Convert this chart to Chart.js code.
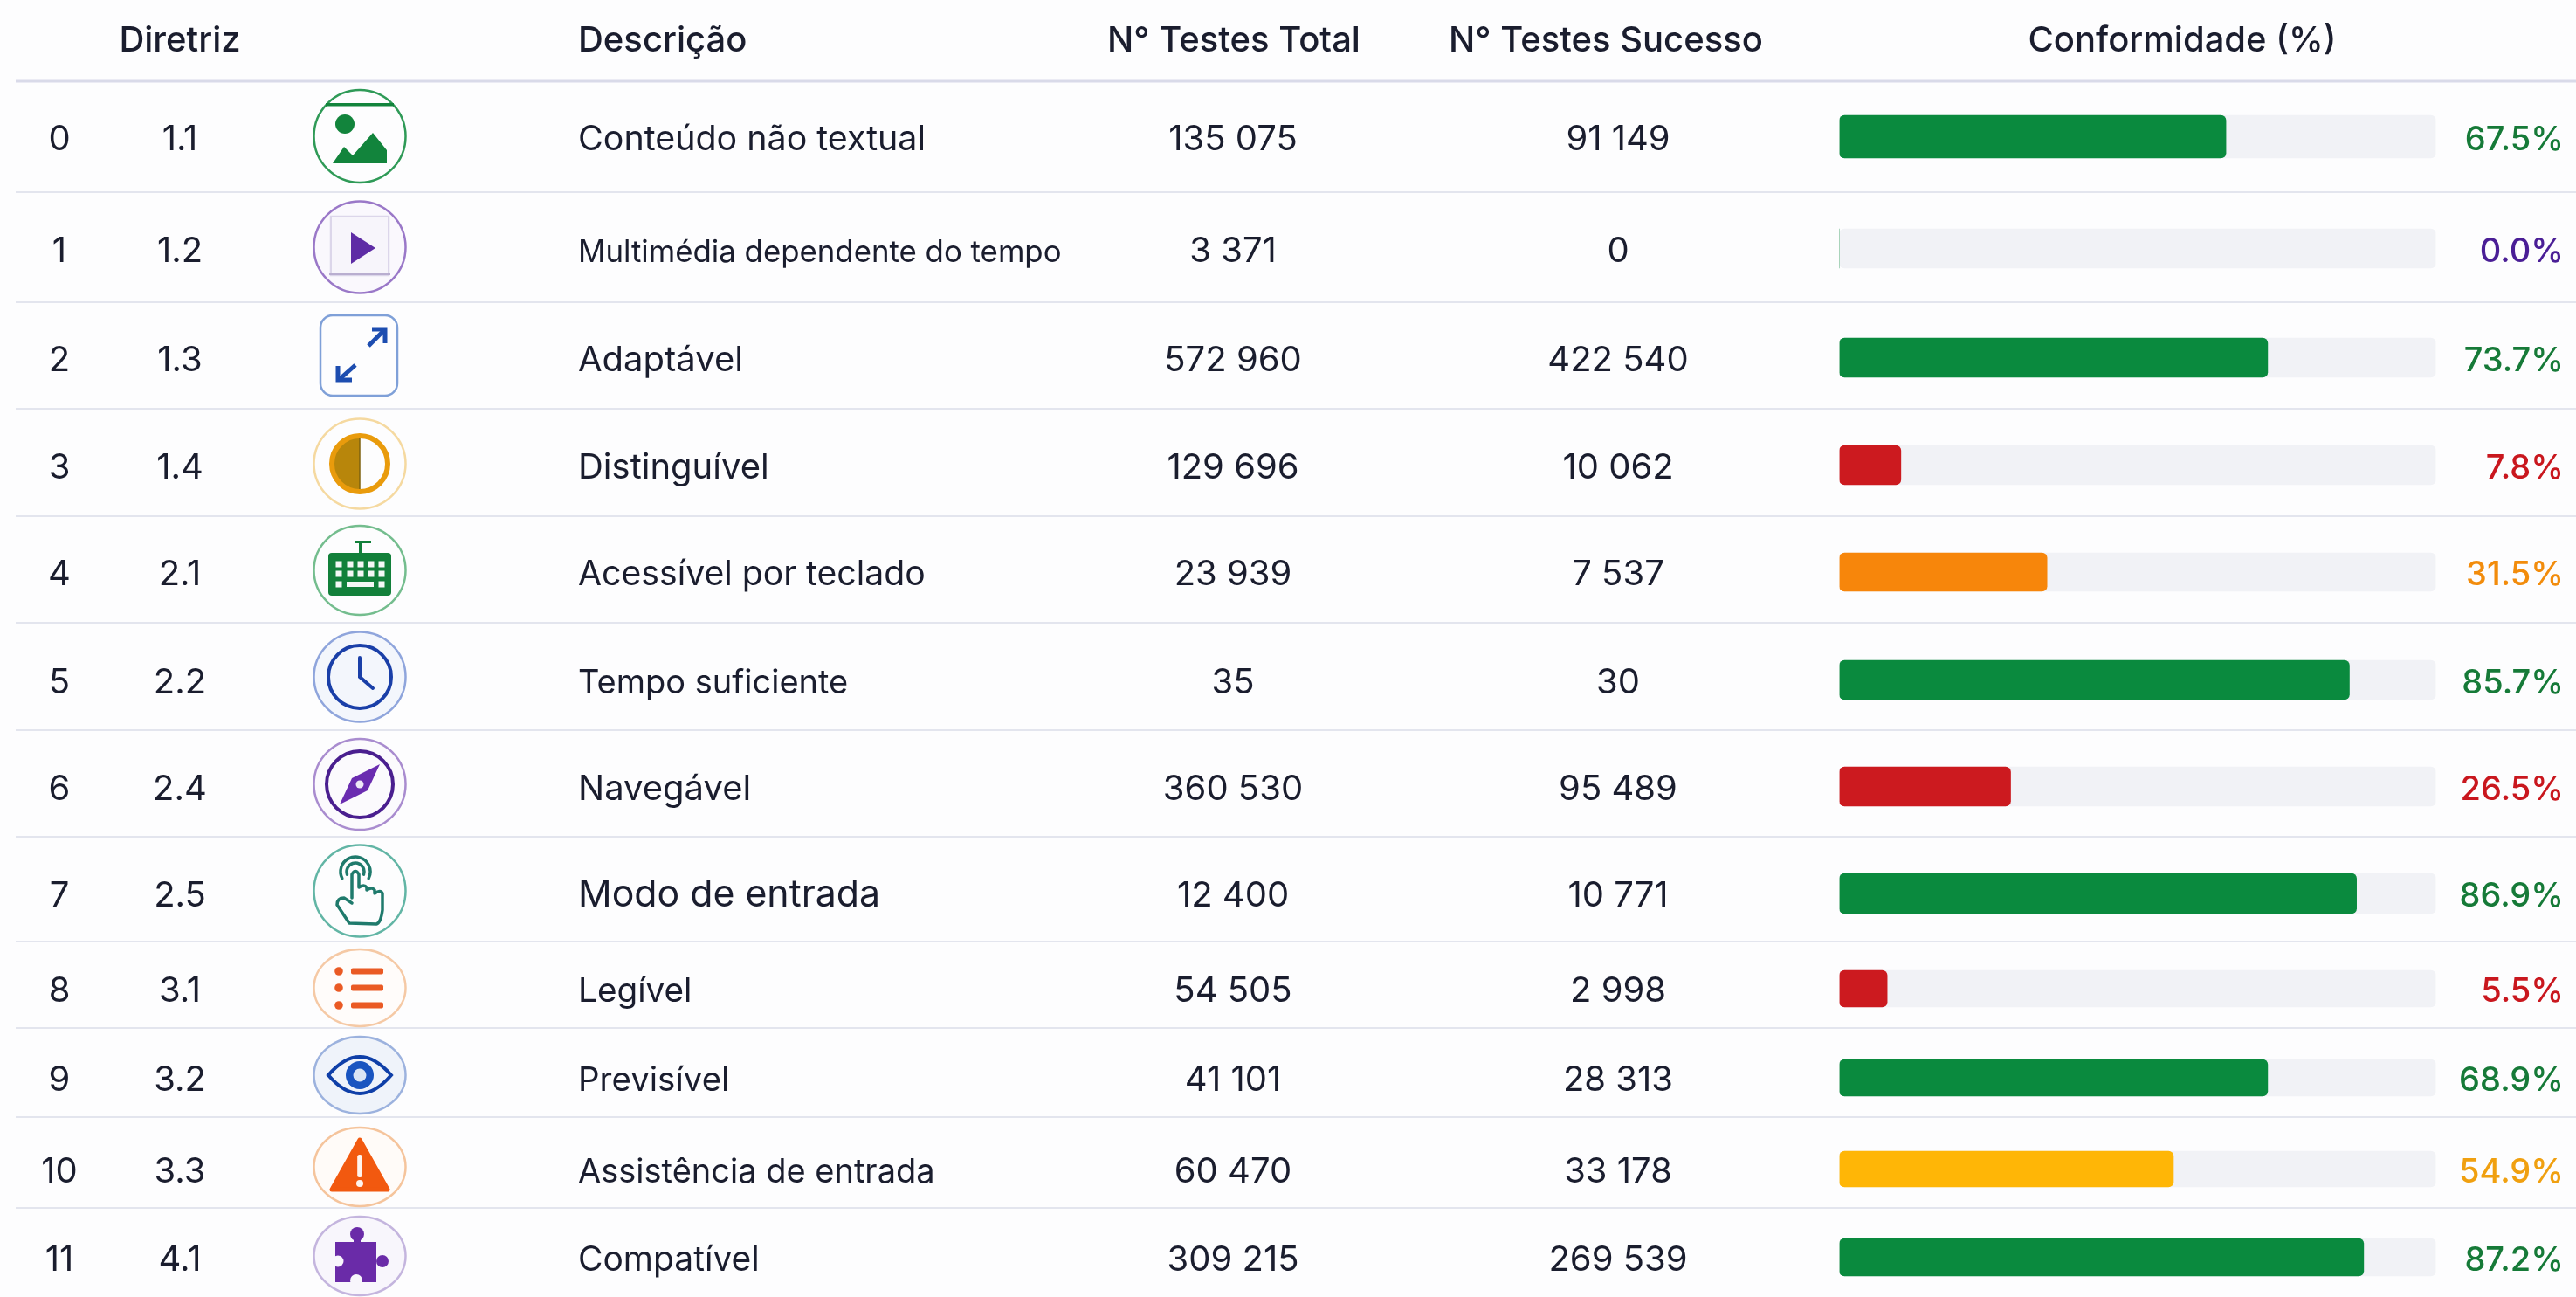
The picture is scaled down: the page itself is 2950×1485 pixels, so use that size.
<!DOCTYPE html>
<html lang="pt">
<head>
<meta charset="utf-8">
<title>Conformidade por diretriz</title>
<script src="https://cdn.jsdelivr.net/npm/chart.js@4"></script>
<style>
  html, body { margin: 0; padding: 0; background: #fdfdfe; }
  canvas { display: block; }
</style>
</head>
<body>
<canvas id="tabela" width="2950" height="1485"></canvas>
<script>
// data
const rowIndex = [0, 1, 2, 3, 4, 5, 6, 7, 8, 9, 10, 11];
const guideline = ["1.1", "1.2", "1.3", "1.4", "2.1", "2.2", "2.4", "2.5", "3.1", "3.2", "3.3", "4.1"];
const description = ["Conteúdo não textual", "Multimédia dependente do tempo", "Adaptável", "Distinguível",
    "Acessível por teclado", "Tempo suficiente", "Navegável", "Modo de entrada", "Legível", "Previsível",
    "Assistência de entrada", "Compatível"];
const totalTests = [135075, 3371, 572960, 129696, 23939, 35, 360530, 12400, 54505, 41101, 60470, 309215];
const passedTests = [91149, 0, 422540, 10062, 7537, 30, 95489, 10771, 2998, 28313, 33178, 269539];
const percentLabels = [67.5, 0.0, 73.7, 7.8, 31.5, 85.7, 26.5, 86.9, 5.5, 68.9, 54.9, 87.2];
// bar lengths as they are drawn in the picture, they don't always agree with the printed label
const barLengths = [64.8, 0, 71.8, 10.3, 34.8, 85.5, 28.7, 86.7, 8.0, 71.8, 56.0, 87.9];
const headers = ["Diretriz", "Descrição", "N° Testes Total", "N° Testes Sucesso", "Conformidade (%)"];

// layout, rows are not evenly spaced in the reference
const rowCenters = [156.5, 284.5, 409.5, 532.5, 655, 778.5, 900.5, 1023, 1132, 1234, 1338.5, 1439.5];
const barHeights = [49, 45, 45, 45, 44, 45, 45, 46, 42, 42, 41, 43];
const rowLines = [220, 346, 468, 591, 713, 836, 958, 1078, 1177, 1279, 1383];
const descSizes = [39.4, 34.8, 40, 40, 39.2, 38, 40, 42.8, 38.7, 38.5, 38, 39];
const ringCenters = [156, 283, 407, 531, 653, 775, 898, 1020, 1131, 1231, 1336, 1438];
const ringRadiusY = [53, 52.5, 46, 51.5, 51, 51.5, 52, 52.5, 44, 44, 45, 45];

const GREEN = "#0a8a3e", RED = "#cc1a1f", ORANGE = "#f7860b", YELLOW = "#ffb606";
const barColors = [GREEN, GREEN, GREEN, RED, ORANGE, GREEN, RED, GREEN, RED, GREEN, YELLOW, GREEN];
const labelColors = ["#167a38", "#4a1e96", "#167a38", "#c9171e", "#f28c0c", "#167a38", "#c9171e", "#167a38",
    "#c9171e", "#167a38", "#f0a010", "#167a38"];
const ringColors = ["#2f9a57", "#9a78c8", "#7fa0d8", "#f5d9a0", "#74bd8e", "#8fa5dc", "#a98ccf", "#62b5a5",
    "#f5c9a5", "#9cb2de", "#f5c49c", "#c4b5de"];
const ringFills = [null, "#faf8fd", null, null, null, "#f3f6fc", "#fbfafd", null, "#fffcfa", "#eff3fa", "#fffbf8", "#f8f6fc"];

const TEXT = "#1a1d2e";
const FONT = "Inter, sans-serif";

function formatThousands(n) {
    return String(n).replace(/\B(?=(\d{3})+$)/g, " ");
}

function drawText(ctx, text, x, y, size, weight, color, align) {
    ctx.font = weight + " " + size + "px " + FONT;
    ctx.fillStyle = color;
    ctx.textAlign = align;
    ctx.textBaseline = "alphabetic";
    ctx.fillText(text, x, y);
}

function poly(ctx, pts) {
    ctx.beginPath();
    pts.forEach((p, i) => i ? ctx.lineTo(p[0], p[1]) : ctx.moveTo(p[0], p[1]));
}

function disc(ctx, x, y, r) {
    ctx.beginPath();
    ctx.arc(x, y, r, 0, Math.PI * 2);
    ctx.fill();
}

// icons, drawn around (0,0) of their row
const icons = [
    // image
    ctx => {
        ctx.fillStyle = "#12843c";
        ctx.fillRect(-39, -38, 78, 3.5);
        disc(ctx, -17, -14, 11);
        poly(ctx, [[-31, 31], [-18, 12], [-8, 22], [15, -4], [31, 16], [31, 31]]);
        ctx.closePath(); ctx.fill();
    },
    // play
    ctx => {
        ctx.strokeStyle = "#dcd6ea"; ctx.lineWidth = 2.5;
        ctx.strokeRect(-33, -35, 66, 67);
        ctx.fillStyle = "#f7f5fb"; ctx.fillRect(-32, -34, 64, 65);
        ctx.strokeStyle = "#b9aed0"; ctx.lineWidth = 2;
        poly(ctx, [[-35, 31], [35, 31]]); ctx.stroke();
        ctx.fillStyle = "#5e2ca5";
        poly(ctx, [[-10, -17], [18, 1], [-10, 19]]);
        ctx.closePath(); ctx.fill();
    },
    // arrows, the ring of this one is a rounded square
    ctx => {
        ctx.strokeStyle = "#1d4db0"; ctx.lineWidth = 5;
        poly(ctx, [[10, -11], [28, -29]]); ctx.stroke();
        poly(ctx, [[14, -30], [29, -30], [29, -14]]); ctx.stroke();
        poly(ctx, [[-5, 11], [-23, 27]]); ctx.stroke();
        poly(ctx, [[-25, 12], [-25, 28], [-9, 28]]); ctx.stroke();
    },
    // contrast
    ctx => {
        ctx.fillStyle = "#b8860b";
        ctx.beginPath(); ctx.arc(0, 0, 33, Math.PI / 2, Math.PI * 1.5); ctx.closePath(); ctx.fill();
        ctx.strokeStyle = "#e99b0c"; ctx.lineWidth = 6;
        ctx.beginPath(); ctx.arc(0, 0, 32, 0, Math.PI * 2); ctx.stroke();
        ctx.strokeStyle = "#7e6210"; ctx.lineWidth = 1.5;
        poly(ctx, [[0, -29], [0, 29]]); ctx.stroke();
    },
    // keyboard
    ctx => {
        ctx.fillStyle = "#12803a";
        ctx.beginPath(); ctx.roundRect(-36, -20, 72, 49, 4); ctx.fill();
        ctx.fillRect(-5, -34, 18, 3);
        ctx.fillRect(-1, -33, 3, 13);
        ctx.fillStyle = "#f4f8f5";
        [-24, -11, 1, 13, 25].forEach(x => {
            ctx.fillRect(x - 3.5, -10.5, 7, 7);
            ctx.fillRect(x - 3.5, 0.5, 7, 7);
        });
        ctx.fillRect(-27.5, 12.5, 7, 7);
        ctx.fillRect(-15, 13, 31, 6);
        ctx.fillRect(21.5, 12.5, 7, 7);
    },
    // clock
    ctx => {
        ctx.strokeStyle = "#1a3fa8"; ctx.lineWidth = 4; ctx.lineCap = "round";
        ctx.beginPath(); ctx.arc(0, 0, 36, 0, Math.PI * 2); ctx.stroke();
        poly(ctx, [[0, -22], [0, 0], [15, 13]]); ctx.stroke();
    },
    // compass
    ctx => {
        ctx.strokeStyle = "#4a1f8f"; ctx.lineWidth = 4;
        ctx.beginPath(); ctx.arc(0, 0, 38, 0, Math.PI * 2); ctx.stroke();
        ctx.fillStyle = "#6a2cb0";
        poly(ctx, [[23, -23], [9, 7], [-23, 23], [-9, -7]]);
        ctx.closePath(); ctx.fill();
        ctx.fillStyle = "#eee8f6"; disc(ctx, 0, 0, 4.5);
    },
    // touch hand
    ctx => {
        ctx.strokeStyle = "#1f7a6c"; ctx.lineWidth = 3.5; ctx.lineJoin = "round"; ctx.lineCap = "round";
        ctx.beginPath(); ctx.arc(-5, -22, 17, Math.PI * 0.85, Math.PI * 0.15); ctx.stroke();
        ctx.beginPath(); ctx.arc(-5, -22, 10, Math.PI * 0.9, Math.PI * 0.1); ctx.stroke();
        ctx.beginPath();
        ctx.moveTo(-9, 8);
        ctx.lineTo(-9, -19);
        ctx.quadraticCurveTo(-5, -26, -1, -19);
        ctx.lineTo(-1, -4);
        ctx.quadraticCurveTo(5, -8, 8, -4);
        ctx.lineTo(8, -1);
        ctx.quadraticCurveTo(14, -5, 17, -1);
        ctx.lineTo(17, 3);
        ctx.quadraticCurveTo(24, -2, 26, 3);
        ctx.lineTo(26, 22);
        ctx.quadraticCurveTo(24, 37, 19, 38);
        ctx.lineTo(-12, 37);
        ctx.lineTo(-26, 16);
        ctx.quadraticCurveTo(-26, 8, -18, 8);
        ctx.lineTo(-9, 14);
        ctx.stroke();
    },
    // list
    ctx => {
        ctx.fillStyle = "#ea5a24";
        [-19, 0, 20].forEach(y => {
            disc(ctx, -24, y, 4.8);
            ctx.beginPath(); ctx.roundRect(-10, y - 3.5, 37, 7, 2); ctx.fill();
        });
    },
    // eye
    ctx => {
        ctx.strokeStyle = "#0f3fa8"; ctx.lineWidth = 4;
        ctx.beginPath();
        ctx.moveTo(-36, 0);
        ctx.quadraticCurveTo(0, -42, 36, 0);
        ctx.quadraticCurveTo(0, 42, -36, 0);
        ctx.closePath(); ctx.stroke();
        ctx.fillStyle = "#1a55c0"; disc(ctx, 0, 0, 16);
        ctx.fillStyle = "#dbe6f4"; disc(ctx, 0, 0, 7.5);
    },
    // warning
    ctx => {
        ctx.fillStyle = "#f2590f"; ctx.strokeStyle = "#f2590f"; ctx.lineWidth = 5; ctx.lineJoin = "round";
        poly(ctx, [[0, -31], [32, 26], [-32, 26]]);
        ctx.closePath(); ctx.fill(); ctx.stroke();
        ctx.fillStyle = "#fff4ee";
        ctx.beginPath(); ctx.roundRect(-2.8, -14, 5.6, 26, 2.5); ctx.fill();
        disc(ctx, 0, 19, 4);
    },
    // puzzle
    ctx => {
        ctx.fillStyle = "#6a2ba8";
        ctx.fillRect(-28, -16, 47, 46);
        disc(ctx, -3, -25, 8);
        ctx.fillRect(-7, -20, 8, 6);
        disc(ctx, 26, 6, 7);
        ctx.fillStyle = "#f8f6fc";
        disc(ctx, -25, 6, 6.5);
        disc(ctx, -4, 28, 7);
    }
];

const tablePlugin = {
    id: "tablePlugin",
    // row lines sit behind the bars
    beforeDraw(chart) {
        const ctx = chart.ctx;
        const y = chart.scales.y;
        ctx.save();
        ctx.fillStyle = "#fdfdfe";
        ctx.fillRect(0, 0, chart.width, chart.height);
        ctx.fillStyle = "#d9dae9";
        ctx.fillRect(18, y.getPixelForValue(93) - 1.5, chart.width - 18, 3);
        ctx.fillStyle = "#e3e5ee";
        rowLines.forEach(v => ctx.fillRect(18, y.getPixelForValue(v) - 1, chart.width - 18, 2));
        ctx.restore();

        // element heights differ per row, barThickness only takes one value
        chart.getSortedVisibleDatasetMetas().forEach(meta => {
            meta.data.forEach((el, i) => { el.height = barHeights[i]; });
        });
    },
    afterDraw(chart) {
        const ctx = chart.ctx;
        const y = chart.scales.y;
        ctx.save();
        drawText(ctx, headers[0], 206, 59, 40, 500, TEXT, "center");
        drawText(ctx, headers[1], 662, 59, 40, 500, TEXT, "left");
        drawText(ctx, headers[2], 1413, 59, 40, 500, TEXT, "center");
        drawText(ctx, headers[3], 1839, 59, 40, 500, TEXT, "center");
        drawText(ctx, headers[4], 2499, 59, 40, 500, TEXT, "center");

        rowIndex.forEach((row, i) => {
            const base = y.getPixelForValue(rowCenters[i]) + 15;
            drawText(ctx, String(row), 68, base, 40, 400, TEXT, "center");
            drawText(ctx, guideline[i], 206, base, 40, 400, TEXT, "center");
            drawText(ctx, description[i], 662, base, descSizes[i], 400, TEXT, "left");
            drawText(ctx, formatThousands(totalTests[i]), 1412, base, 40, 400, TEXT, "center");
            drawText(ctx, formatThousands(passedTests[i]), 1853, base, 40, 400, TEXT, "center");
            // nothing to draw for a zero bar, see barLengths
            drawText(ctx, percentLabels[i].toFixed(1) + "%", 2936, base, 38, 500, labelColors[i], "right");

            const cy = y.getPixelForValue(ringCenters[i]);
            ctx.save();
            ctx.translate(412, cy);
            ctx.lineWidth = 2.5;
            ctx.strokeStyle = ringColors[i];
            ctx.beginPath();
            if (i === 2) ctx.roundRect(-45, -46, 88, 92, 14);
            else ctx.ellipse(0, 0, 52.5, ringRadiusY[i], 0, 0, Math.PI * 2);
            if (ringFills[i]) { ctx.fillStyle = ringFills[i]; ctx.fill(); }
            ctx.stroke();
            icons[i](ctx);
            ctx.restore();
        });
        ctx.restore();
    }
};

new Chart(document.getElementById("tabela"), {
    type: "bar",
    data: {
        datasets: [
            {
                data: barLengths.map((v, i) => ({ x: v, y: rowCenters[i] })),
                backgroundColor: barColors,
                borderRadius: 6,
                borderSkipped: false,
                barThickness: 45,
                grouped: false
            },
            {
                data: rowCenters.map(c => ({ x: 100, y: c })),
                backgroundColor: "#f1f2f6",
                borderRadius: 6,
                borderSkipped: false,
                barThickness: 45,
                grouped: false
            }
        ]
    },
    options: {
        indexAxis: "y",
        responsive: false,
        animation: false,
        layout: { padding: { left: 2106.5, right: 160.5, top: 0, bottom: 0 } },
        plugins: { legend: { display: false }, tooltip: { enabled: false } },
        scales: {
            x: { type: "linear", min: 0, max: 100, display: false },
            y: { type: "linear", min: 0, max: 1485, reverse: true, offset: false, display: false }
        }
    },
    plugins: [tablePlugin]
});
</script>
</body>
</html>
